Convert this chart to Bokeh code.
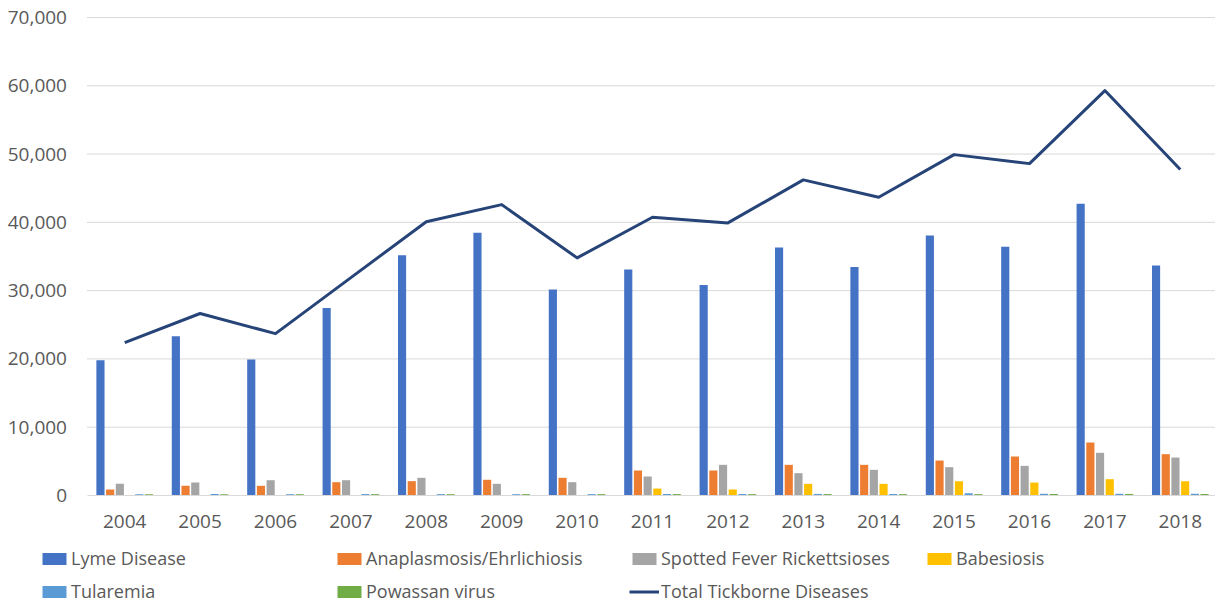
from bokeh.plotting import figure
from bokeh.models import (Range1d, FixedTicker, NumeralTickFormatter, Legend,
                          LegendItem, ColumnDataSource)
from bokeh.transform import dodge
from bokeh.embed import file_html
from bokeh.resources import INLINE

years = [2004, 2005, 2006, 2007, 2008, 2009, 2010, 2011, 2012, 2013,
         2014, 2015, 2016, 2017, 2018]
lyme = [19804, 23305, 19931, 27444, 35198, 38468, 30158, 33097, 30831,
        36307, 33461, 38069, 36429, 42743, 33666]
anaplasmosis = [880, 1420, 1420, 1950, 2100, 2300, 2590, 3660, 3660,
                4490, 4490, 5120, 5710, 7760, 6050]
spotted = [1710, 1900, 2240, 2240, 2590, 1710, 1950, 2780, 4490,
           3270, 3760, 4150, 4340, 6250, 5560]
babesiosis = [0, 0, 0, 0, 0, 0, 0, 1020, 880, 1710, 1710, 2090, 1900,
              2390, 2090]
tularemia = [200, 210, 190, 210, 200, 190, 200, 220, 210, 230, 220, 330,
             250, 250, 250]
powassan = [190, 190, 190, 200, 190, 200, 200, 210, 200, 210, 200, 200,
            220, 230, 220]
total = [22400, 26650, 23700, 31900, 40100, 42600, 34800, 40740, 39920,
         46220, 43670, 49920, 48600, 59300, 47730]
y_ticks = [0, 10000, 20000, 30000, 40000, 50000, 60000, 70000]

series_names = ["Lyme Disease", "Anaplasmosis/Ehrlichiosis",
                "Spotted Fever Rickettsioses", "Babesiosis", "Tularemia",
                "Powassan virus"]
series_keys = ["lyme", "anaplasmosis", "spotted", "babesiosis", "tularemia",
               "powassan"]
colors = ["#4472C4", "#ED7D31", "#A5A5A5", "#FFC000", "#5B9BD5", "#70AD47"]
line_color = "#264478"
total_name = "Total Tickborne Diseases"

source = ColumnDataSource(dict(year=years, lyme=lyme, anaplasmosis=anaplasmosis,
                               spotted=spotted, babesiosis=babesiosis,
                               tularemia=tularemia, powassan=powassan,
                               total=total))

TEXT = "#595959"
GRID = "#D9D9D9"

# plot-area geometry (screen px) -> data ranges
W, H = 1215, 604
left_px, top_px, bottom_px = 86.5, 17, 495
cat_px = 75.4
x_lo = years[0] - 0.5
x_start = x_lo - left_px / cat_px
x_end = x_lo + (W - left_px) / cat_px
y_top = y_ticks[-1]
per_px = y_top / (bottom_px - top_px)
y_end = y_top + top_px * per_px
y_start = -(H - bottom_px) * per_px

p = figure(width=W, height=H, output_backend="svg", toolbar_location=None,
           x_range=Range1d(x_start, x_end), y_range=Range1d(y_start, y_end),
           min_border=0)
p.outline_line_color = None
p.background_fill_color = "white"
p.xgrid.visible = False
p.ygrid.visible = False

# horizontal gridlines over the plot area only
grid_src = ColumnDataSource(dict(y=y_ticks[1:]))
p.segment(x0=x_lo, x1=x_end, y0="y", y1="y", source=grid_src,
          line_color=GRID, line_width=1)

step = 0.1286
bar_w = 0.108
bar_renderers = []
for i, (k, c) in enumerate(zip(series_keys, colors)):
    off = (i - 2.5) * step
    r = p.vbar(x=dodge("year", off), top=k, width=bar_w, source=source,
               fill_color=c, line_color=None)
    bar_renderers.append(r)

rl = p.line(x="year", y="total", source=source, line_color=line_color,
            line_width=3, line_join="round")

p.yaxis.fixed_location = x_lo
p.yaxis.ticker = FixedTicker(ticks=y_ticks)
p.yaxis.formatter = NumeralTickFormatter(format="0,0")
p.yaxis.axis_line_color = None
p.yaxis.major_tick_line_color = None
p.yaxis.major_tick_out = 0
p.yaxis.minor_tick_line_color = None
p.yaxis.major_label_standoff = 20

p.xaxis.fixed_location = 0
p.xaxis.bounds = (x_lo, x_end)
p.xaxis.ticker = FixedTicker(ticks=years)
p.xaxis.axis_line_color = GRID
p.xaxis.axis_line_width = 1
p.xaxis.major_tick_line_color = None
p.xaxis.major_tick_out = 0
p.xaxis.minor_tick_line_color = None
p.xaxis.major_label_standoff = 19

for ax in (p.xaxis, p.yaxis):
    ax.major_label_text_font = "Open Sans"
    ax.major_label_text_font_size = "19px"
    ax.major_label_text_color = TEXT

items = [LegendItem(label=n, renderers=[r])
         for n, r in zip(series_names, bar_renderers)]
items.append(LegendItem(label=total_name, renderers=[rl]))

legend = Legend(items=items, location=(39, 1), orientation="horizontal",
                ncols=4, label_text_font="Open Sans",
                label_text_font_size="18px", label_text_color=TEXT,
                glyph_width=30, glyph_height=15, label_height=23,
                label_width=254, label_standoff=2, spacing=9, padding=0,
                margin=0, border_line_color=None, background_fill_alpha=0)
p.add_layout(legend)

open("out.html", "w").write(file_html(p, INLINE))
